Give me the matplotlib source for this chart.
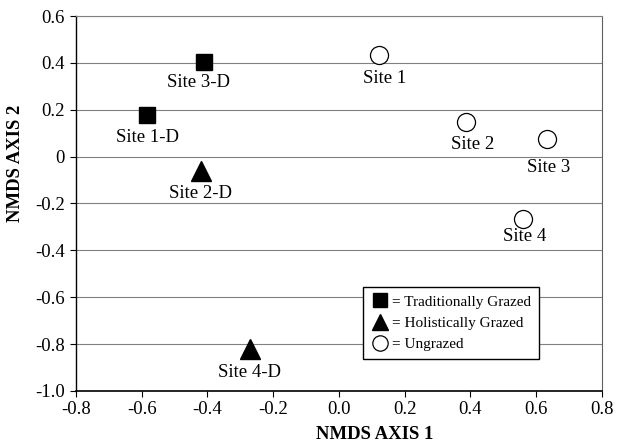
import matplotlib
matplotlib.use("Agg")
import matplotlib.pyplot as plt
from matplotlib.ticker import FixedLocator, FixedFormatter

plt.rcParams['font.family'] = ['Liberation Serif', 'DejaVu Serif']
plt.rcParams['axes.unicode_minus'] = False

# NMDS site scores
trad_names = ['Site 1-D', 'Site 3-D']
trad_x = [-0.584, -0.411]
trad_y = [0.176, 0.405]

holi_names = ['Site 2-D', 'Site 4-D']
holi_x = [-0.42, -0.271]
holi_y = [-0.063, -0.82]

ungr_names = ['Site 1', 'Site 2', 'Site 3', 'Site 4']
ungr_x = [0.122, 0.386, 0.633, 0.560]
ungr_y = [0.435, 0.146, 0.077, -0.265]

xticks = [-0.8, -0.6, -0.4, -0.2, 0.0, 0.2, 0.4, 0.6, 0.8]
xticklabels = ['-0.8', '-0.6', '-0.4', '-0.2', '0.0', '0.2', '0.4', '0.6', '0.8']
yticks = [-1.0, -0.8, -0.6, -0.4, -0.2, 0.0, 0.2, 0.4, 0.6]
yticklabels = ['-1.0', '-0.8', '-0.6', '-0.4', '-0.2', '0', '0.2', '0.4', '0.6']

# label offsets in points (text placed below each marker)
label_off = {
    'Site 1-D': (0, -16), 'Site 3-D': (-4, -15),
    'Site 2-D': (0, -16), 'Site 4-D': (0, -17),
    'Site 1': (4, -17), 'Site 2': (5, -16), 'Site 3': (1, -21), 'Site 4': (1, -13),
}

fig = plt.figure(figsize=(6.18, 4.47), dpi=100)
ax = fig.add_axes([0.123, 0.1253, 0.851, 0.8389])

ax.set_xlim(-0.8, 0.8)
ax.set_ylim(-1.0, 0.6)
ax.yaxis.grid(True, color='#808080', lw=0.8)
ax.set_axisbelow(True)

ax.plot(trad_x, trad_y, ls='none', marker='s', ms=12, color='black',
        label='= Traditionally Grazed')
ax.plot(holi_x, holi_y, ls='none', marker='^', ms=14, color='black',
        label='= Holistically Grazed')
ax.plot(ungr_x, ungr_y, ls='none', marker='o', ms=13, mfc='white',
        mec='black', mew=0.9, label='= Ungrazed')

for names, xs, ys in [(trad_names, trad_x, trad_y),
                      (holi_names, holi_x, holi_y),
                      (ungr_names, ungr_x, ungr_y)]:
    for n, x, y in zip(names, xs, ys):
        ax.annotate(n, (x, y), xytext=label_off[n], textcoords='offset points',
                    ha='center', va='center', fontsize=13.5)

ax.xaxis.set_major_locator(FixedLocator(xticks))
ax.xaxis.set_major_formatter(FixedFormatter(xticklabels))
ax.yaxis.set_major_locator(FixedLocator(yticks))
ax.yaxis.set_major_formatter(FixedFormatter(yticklabels))
ax.tick_params(axis='both', labelsize=13.5, length=4, width=0.8, direction='out')
ax.tick_params(axis='x', pad=3)
ax.tick_params(axis='y', pad=4)

ax.spines['top'].set_color('#808080')
ax.spines['top'].set_linewidth(0.8)
ax.spines['right'].set_color('#606060')
ax.spines['right'].set_linewidth(0.8)
ax.spines['left'].set_linewidth(1.0)
ax.spines['bottom'].set_linewidth(1.2)

leg = ax.legend(loc='lower left', bbox_to_anchor=(0.5456, 0.0853), fontsize=11,
                frameon=True, fancybox=False, edgecolor='black', framealpha=1,
                handletextpad=0.2, handlelength=1.2, borderpad=0.5,
                borderaxespad=0, labelspacing=0.5, markerscale=0.85,
                numpoints=1)
leg.get_frame().set_linewidth(1.0)

fig.text(0.607, 0.008, 'NMDS AXIS 1', ha='center', va='bottom',
         fontsize=13.5, fontweight='bold')
fig.text(0.012, 0.635, 'NMDS AXIS 2', ha='left', va='center', rotation=90,
         fontsize=13.5, fontweight='bold')

fig.savefig('out.png', dpi=100)
